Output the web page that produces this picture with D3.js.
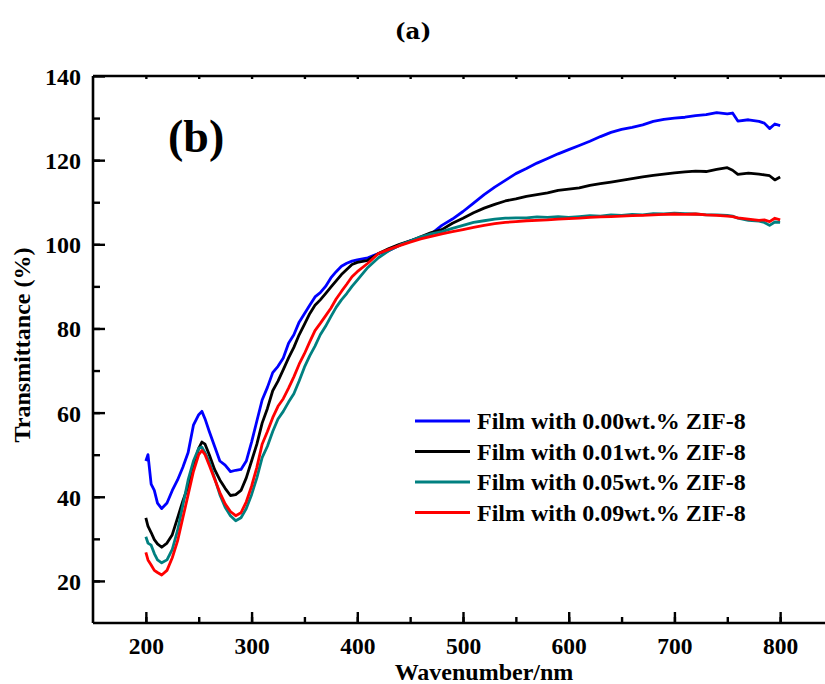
<!DOCTYPE html>
<html><head><meta charset="utf-8">
<script src="https://cdn.jsdelivr.net/npm/d3@7"></script>
<style>
body{margin:0;background:#fff;}
text{font-family:"Liberation Serif","Times New Roman",serif;font-weight:bold;fill:#000;}
</style></head>
<body><svg id="c" width="825" height="684"></svg>
<script>
const wavelength = [200,202,205,208,211,215,220,225,230,235,240,245,250,253,256,260,265,270,275,280,285,290,295,300,305,310,315,320,325,330,335,340,345,350,355,360,365,370,375,380,385,390,395,400,410,420,430,440,450,460,470,480,490,500,510,520,530,540,550,560,570,580,590,600,610,620,630,640,650,660,670,680,690,700,710,720,730,740,750,755,760,770,780,785,790,795,800];
const film000 = [48.5,50,43,41.5,38.5,37.2,38.5,41.5,44,47,50.5,57,59.5,60.3,58.5,55.5,52,48.5,47.5,46,46.3,46.5,48.5,53,58,63,66,69.5,71,73,76.5,78.5,81.5,83.5,85.5,87.5,88.5,90,92,93.5,94.8,95.5,96,96.3,96.8,97.8,98.5,99.8,100.8,101.6,102.5,104.5,106,107.8,109.8,111.8,113.6,115.2,116.8,118,119.3,120.4,121.5,122.5,123.5,124.5,125.6,126.6,127.3,127.8,128.4,129.2,129.7,130,130.2,130.6,130.8,131.3,131,131.2,129.3,129.6,129.2,128.8,127.5,128.6,128.2];
const film001 = [35,33,31.5,29.8,28.8,28,29,31,35,39,42.5,47.5,51.5,53,52.5,50,46.5,44,42,40.3,40.5,41.5,44.5,48.5,52.5,57.5,61,65.2,67.5,70.2,73,75.5,78.5,81,83.5,85.5,86.8,88.3,89.8,91.3,92.8,94,95.2,95.7,96.2,97.8,99,100,100.8,101.8,102.8,103.5,105,106.2,107.5,108.6,109.5,110.3,110.8,111.4,111.8,112.2,112.8,113.1,113.4,114,114.4,114.8,115.2,115.6,116,116.4,116.7,117,117.2,117.4,117.3,117.8,118.2,117.6,116.6,116.9,116.7,116.5,116.3,115.3,116];
const film005 = [30.5,29,28.5,26.5,25,24.3,25,27.5,32,38,44,48.5,51.5,51.8,50.5,48.3,44.5,40.5,37.5,35.5,34.3,35,37.2,40.5,44.5,49.3,52,55.5,58.5,60.3,62.5,64.5,67.5,70.8,73.5,75.8,78.5,80.5,82.8,85,86.8,88.3,90,91.5,94.5,96.8,98.5,99.8,100.8,101.8,102.5,103,103.8,104.5,105.2,105.6,106,106.2,106.3,106.3,106.5,106.4,106.6,106.4,106.6,106.8,106.7,107,106.9,107.1,107,107.3,107.2,107.4,107.3,107.2,107,107,106.9,106.7,106.2,105.7,105.5,105.2,104.5,105.3,105.2];
const film009 = [26.8,25,23.8,22.5,22,21.4,22.5,25.5,29.5,35,40.5,46,50,51,50,47.5,44.2,41,38.3,36.5,35.5,36.2,38.8,42.5,47,52.5,55.5,58.8,61.5,63.3,65.8,68.5,71.5,74,76.8,79.5,81.2,83,84.8,87,88.8,90.5,92.3,93.5,95.5,97.8,98.8,99.7,100.5,101.3,101.9,102.5,103,103.5,104,104.5,104.9,105.2,105.4,105.6,105.7,105.8,106,106.1,106.2,106.4,106.5,106.6,106.7,106.8,106.9,107,107.1,107.2,107.1,107.2,107,106.9,106.7,106.6,106.3,106,105.7,105.8,105.4,106.2,105.8];
const seriesNames = ["Film with 0.00wt.% ZIF-8","Film with 0.01wt.% ZIF-8","Film with 0.05wt.% ZIF-8","Film with 0.09wt.% ZIF-8"];
const seriesColors = ["#0000ff","#000000","#008080","#ff0000"];
const xTicks = [200,300,400,500,600,700,800];
const yTicks = [20,40,60,80,100,120,140];

const svg = d3.select("#c");
const L=93, T=76, B=623, R=833;
const x = d3.scaleLinear().domain([150,850]).range([L,R]);
const y = d3.scaleLinear().domain([10,140]).range([B,T]);

// title
svg.append("text").attr("x",413).attr("y",39).attr("text-anchor","middle")
  .style("font-family","'DejaVu Serif',serif").style("font-size","23px").text("(a)");

// series
const series=[film000,film001,film005,film009];
const line = d3.line().x((d,i)=>x(wavelength[i])).y(d=>y(d));
series.forEach((s,k)=>{
  svg.append("path").datum(s).attr("d",line).attr("fill","none")
    .attr("stroke",seriesColors[k]).attr("stroke-width",2.8).attr("stroke-linejoin","round");
});

// axes
const minorX = d3.range(200,850,50);
const minorY = d3.range(20,140,10);
const gx = svg.append("g").attr("transform",`translate(0,${B})`);
gx.call(d3.axisBottom(x).tickValues(minorX).tickSize(-6).tickFormat(""));
gx.append("g").call(d3.axisBottom(x).tickValues(xTicks).tickSize(-11).tickFormat(d3.format("d")));
const gt = svg.append("g").attr("transform",`translate(0,${T})`);
gt.call(d3.axisTop(x).tickValues(minorX).tickSize(-3).tickFormat(""));
const gy = svg.append("g").attr("transform",`translate(${L},0)`);
gy.call(d3.axisLeft(y).tickValues(minorY).tickSize(-7).tickFormat(""));
gy.append("g").call(d3.axisLeft(y).tickValues(yTicks).tickSize(-12).tickFormat(d3.format("d")));
svg.selectAll(".domain").attr("stroke","#000").attr("stroke-width",2.6);
svg.selectAll(".tick line").attr("stroke","#000").attr("stroke-width",2.4);
gx.selectAll(".tick text").attr("dy",null).attr("y",31).style("font-size","23.5px").style("font-family","'Liberation Serif',serif");
gy.selectAll(".tick text").attr("x",-12).attr("dy","0.35em").style("font-size","24px").style("font-family","'Liberation Serif',serif");
svg.selectAll(".domain").attr("d",null);
gx.select(".domain").attr("d",`M${L},0H${R}`);
gt.select(".domain").attr("d",`M${L},0H${R}`);
gy.select(".domain").attr("d",`M0,${T}V${B}`);

// axis titles
svg.append("text").attr("x",484).attr("y",680).attr("text-anchor","middle").style("font-size","24px").text("Wavenumber/nm");
svg.append("text").attr("transform","translate(30,345) rotate(-90)").attr("text-anchor","middle").style("font-size","24px").text("Transmittance (%)");

// panel label
svg.append("text").attr("x",168).attr("y",152).style("font-size","46px").text("(b)");

// legend
const lg = svg.append("g");
seriesNames.forEach((n,k)=>{
  const yy = 421 + k*30.5;
  lg.append("line").attr("x1",415).attr("x2",470).attr("y1",yy).attr("y2",yy)
    .attr("stroke",seriesColors[k]).attr("stroke-width",2.8);
  lg.append("text").attr("x",477).attr("y",yy+8).style("font-size","24px").text(n);
});
</script></body></html>
